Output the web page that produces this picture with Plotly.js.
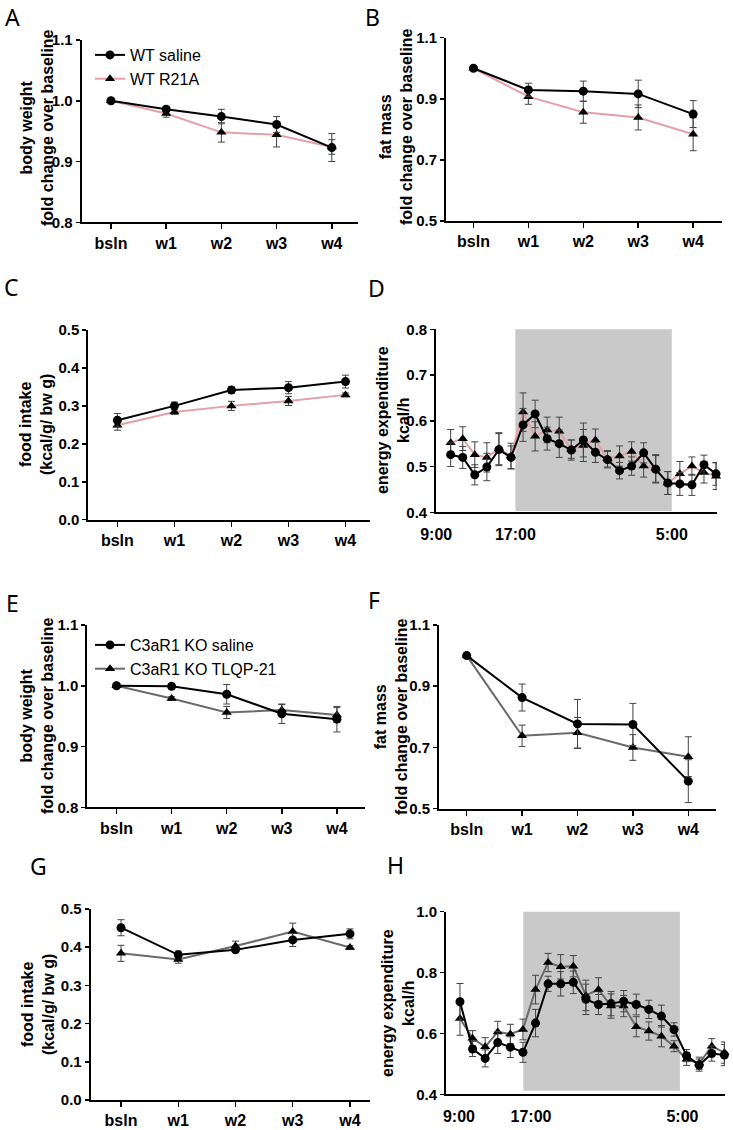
<!DOCTYPE html>
<html><head><meta charset="utf-8">
<script src="https://cdn.plot.ly/plotly-3.0.1.min.js"></script>
<style>html,body{margin:0;padding:0;background:#fff;} #chart{width:733px;height:1130px;}</style>
</head><body><div id="chart"></div>
<script>
// ---------- data ----------
const weeks = ['bsln', 'w1', 'w2', 'w3', 'w4'];

// A: body weight (WT)
const aSaline = [1.000, 0.986, 0.974, 0.961, 0.923];
const aSalineErr = [0.003, 0.004, 0.012, 0.013, 0.023];
const aR21A = [1.000, 0.979, 0.948, 0.944, 0.924];
const aR21AErr = [0.002, 0.006, 0.016, 0.020, 0.012];

// B: fat mass (WT)
const bSaline = [1.000, 0.929, 0.925, 0.916, 0.850];
const bSalineErr = [0.003, 0.022, 0.033, 0.045, 0.044];
const bR21A = [1.000, 0.907, 0.856, 0.839, 0.784];
const bR21AErr = [0.003, 0.025, 0.036, 0.041, 0.054];

// C: food intake (WT)
const cSaline = [0.262, 0.300, 0.342, 0.348, 0.364];
const cSalineErr = [0.018, 0.010, 0.008, 0.016, 0.017];
const cR21A = [0.249, 0.284, 0.300, 0.313, 0.329];
const cR21AErr = [0.013, 0.006, 0.012, 0.012, 0.005];

// D: energy expenditure (WT), hourly points
const dPoint = [1, 2, 3, 4, 5, 6, 7, 8, 9, 10, 11, 12, 13, 14, 15, 16, 17, 18, 19, 20, 21, 22, 23];
const dSaline = [0.526, 0.520, 0.482, 0.499, 0.537, 0.520, 0.591, 0.615, 0.561, 0.550, 0.536, 0.558, 0.531, 0.515, 0.491, 0.501, 0.530, 0.494, 0.464, 0.462, 0.460, 0.504, 0.484];
const dSalineErr = [0.026, 0.024, 0.022, 0.030, 0.035, 0.025, 0.036, 0.030, 0.025, 0.030, 0.022, 0.037, 0.022, 0.018, 0.018, 0.020, 0.022, 0.030, 0.025, 0.025, 0.023, 0.021, 0.025];
const dR21A = [0.552, 0.561, 0.526, 0.520, 0.539, 0.523, 0.619, 0.566, 0.580, 0.577, 0.538, 0.546, 0.558, 0.517, 0.523, 0.533, 0.501, 0.496, 0.464, 0.484, 0.501, 0.487, 0.479];
const dR21AErr = [0.029, 0.026, 0.028, 0.032, 0.035, 0.028, 0.042, 0.032, 0.028, 0.031, 0.020, 0.035, 0.024, 0.018, 0.022, 0.021, 0.024, 0.030, 0.025, 0.027, 0.020, 0.023, 0.029];
const dTickLabels = ['9:00', '17:00', '5:00'];

// E: body weight (C3aR1 KO)
const eSaline = [1.000, 0.999, 0.986, 0.954, 0.945];
const eSalineErr = [0.002, 0.004, 0.016, 0.016, 0.021];
const eTLQP = [1.000, 0.979, 0.956, 0.960, 0.952];
const eTLQPErr = [0.002, 0.003, 0.010, 0.009, 0.012];

// F: fat mass (C3aR1 KO)
const fSaline = [1.000, 0.863, 0.777, 0.775, 0.590];
const fSalineErr = [0.003, 0.044, 0.080, 0.069, 0.070];
const fTLQP = [1.000, 0.738, 0.748, 0.700, 0.670];
const fTLQPErr = [0.003, 0.035, 0.050, 0.042, 0.065];

// G: food intake (C3aR1 KO)
const gSaline = [0.451, 0.380, 0.393, 0.419, 0.435];
const gSalineErr = [0.021, 0.010, 0.006, 0.017, 0.013];
const gTLQP = [0.384, 0.368, 0.403, 0.441, 0.399];
const gTLQPErr = [0.021, 0.010, 0.013, 0.022, 0.005];

// H: energy expenditure (C3aR1 KO), hourly points
const hPoint = [1, 2, 3, 4, 5, 6, 7, 8, 9, 10, 11, 12, 13, 14, 15, 16, 17, 18, 19, 20, 21, 22];
const hSaline = [0.704, 0.549, 0.518, 0.570, 0.555, 0.538, 0.634, 0.763, 0.763, 0.768, 0.712, 0.695, 0.698, 0.706, 0.695, 0.679, 0.657, 0.613, 0.527, 0.496, 0.534, 0.529];
const hSalineErr = [0.060, 0.025, 0.028, 0.036, 0.034, 0.033, 0.045, 0.025, 0.040, 0.037, 0.050, 0.033, 0.040, 0.035, 0.034, 0.030, 0.036, 0.022, 0.020, 0.020, 0.025, 0.035];
const hTLQP = [0.649, 0.584, 0.556, 0.605, 0.598, 0.613, 0.744, 0.833, 0.819, 0.821, 0.725, 0.744, 0.690, 0.690, 0.622, 0.608, 0.591, 0.558, 0.515, 0.502, 0.558, 0.537];
const hTLQPErr = [0.055, 0.025, 0.030, 0.035, 0.032, 0.034, 0.047, 0.030, 0.040, 0.035, 0.050, 0.039, 0.040, 0.035, 0.033, 0.030, 0.035, 0.018, 0.020, 0.020, 0.025, 0.035];
const hTickLabels = ['9:00', '17:00', '5:00'];

const seriesNames = ['WT saline', 'WT R21A', 'C3aR1 KO saline', 'C3aR1 KO TLQP-21'];

// ---------- layout helpers ----------
const W = 733, H = 1130;
const px = v => v / W;
const py = v => 1 - v / H;
const FONT = 'Liberation Sans, Arial, sans-serif';
const PINK = '#e3a0a6';
const GRAY = '#6a6a6a';

function trace(x, y, err, n, kind, lineColor, extra) {
  const t = {
    x: x, y: y, type: 'scatter', mode: 'lines+markers',
    xaxis: 'x' + (n === 1 ? '' : n), yaxis: 'y' + (n === 1 ? '' : n),
    line: {color: lineColor, width: 2},
    marker: {symbol: kind === 'c' ? 'circle' : 'triangle-up', size: 9, color: '#000'},
    error_y: {type: 'data', array: err, visible: true, color: '#444', thickness: 1, width: 3.5},
    cliponaxis: false, showlegend: false, hoverinfo: 'skip'
  };
  return Object.assign(t, extra || {});
}

const data = [
  trace(weeks, aR21A, aR21AErr, 1, 't', PINK, {name: seriesNames[1], showlegend: true, legend: 'legend', legendrank: 2}),
  trace(weeks, aSaline, aSalineErr, 1, 'c', '#000', {name: seriesNames[0], showlegend: true, legend: 'legend', legendrank: 1}),
  trace(weeks, bR21A, bR21AErr, 2, 't', PINK),
  trace(weeks, bSaline, bSalineErr, 2, 'c', '#000'),
  trace(weeks, cR21A, cR21AErr, 3, 't', PINK),
  trace(weeks, cSaline, cSalineErr, 3, 'c', '#000'),
  trace(dPoint, dR21A, dR21AErr, 4, 't', PINK),
  trace(dPoint, dSaline, dSalineErr, 4, 'c', '#000'),
  trace(weeks, eTLQP, eTLQPErr, 5, 't', GRAY, {name: seriesNames[3], showlegend: true, legend: 'legend2', legendrank: 2}),
  trace(weeks, eSaline, eSalineErr, 5, 'c', '#000', {name: seriesNames[2], showlegend: true, legend: 'legend2', legendrank: 1}),
  trace(weeks, fTLQP, fTLQPErr, 6, 't', GRAY),
  trace(weeks, fSaline, fSalineErr, 6, 'c', '#000'),
  trace(weeks, gTLQP, gTLQPErr, 7, 't', GRAY),
  trace(weeks, gSaline, gSalineErr, 7, 'c', '#000'),
  trace(hPoint, hTLQP, hTLQPErr, 8, 't', GRAY),
  trace(hPoint, hSaline, hSalineErr, 8, 'c', '#000')
];

const tickFontY = {family: FONT, size: 15, color: '#000', weight: 'bold'};
const tickFontX = {family: FONT, size: 16, color: '#000', weight: 'bold'};

function xCat(anchor, l, r, range) {
  return {domain: [px(l), px(r)], anchor: anchor, type: 'category', range: range,
    showline: true, linecolor: '#000', linewidth: 2, showgrid: false, zeroline: false,
    ticks: 'outside', ticklen: 5, tickwidth: 1.5, tickcolor: '#000', tickfont: tickFontX, fixedrange: true};
}
function xTime(anchor, l, r, range, tv, tt) {
  return {domain: [px(l), px(r)], anchor: anchor, type: 'linear', range: range,
    showline: true, linecolor: '#000', linewidth: 2, showgrid: false, zeroline: false,
    tickmode: 'array', tickvals: tv, ticktext: tt,
    ticks: 'outside', ticklen: 6, tickcolor: 'rgba(0,0,0,0)', tickfont: tickFontX, fixedrange: true};
}
function yAx(anchor, bottom, top, range, dtick) {
  return {domain: [py(bottom), py(top)], anchor: anchor, range: range, tick0: range[0], dtick: dtick,
    tickformat: '.1f', showline: true, linecolor: '#000', linewidth: 2, showgrid: false, zeroline: false,
    ticks: 'outside', ticklen: 4, tickwidth: 1.5, tickcolor: '#000', tickfont: tickFontY, fixedrange: true};
}

const titleFont = {family: FONT, size: 16, color: '#000', weight: 'bold'};
function yTitle(x, y, text) {
  return {xref: 'paper', yref: 'paper', x: px(x), y: py(y), text: text, textangle: -90,
    showarrow: false, xanchor: 'center', yanchor: 'middle', font: titleFont};
}
function letter(x, y, t) {
  return {xref: 'paper', yref: 'paper', x: px(x), y: py(y), text: t, showarrow: false,
    xanchor: 'center', yanchor: 'middle', font: {family: 'Noto Sans, Open Sans, sans-serif', size: 23, color: '#000'}};
}

const layout = {
  width: W, height: H, margin: {l: 0, r: 0, t: 0, b: 0},
  paper_bgcolor: '#fff', plot_bgcolor: 'rgba(0,0,0,0)',
  font: {family: FONT, color: '#000'},
  xaxis: xCat('y', 81.7, 358.3, [-0.53, 4.48]),
  yaxis: yAx('x', 222.3, 40, [0.8, 1.1], 0.1),
  xaxis2: xCat('y2', 446, 721.7, [-0.5, 4.52]),
  yaxis2: yAx('x2', 221, 37.7, [0.5, 1.1], 0.2),
  xaxis3: xCat('y3', 88.3, 370, [-0.51, 4.43]),
  yaxis3: yAx('x3', 519.7, 330, [0, 0.5], 0.1),
  xaxis4: xTime('y4', 436.2, 717, [-0.2, 23.08], [-0.2, 6.36, 19.33], dTickLabels),
  yaxis4: yAx('x4', 512.3, 329.3, [0.4, 0.8], 0.1),
  xaxis5: xCat('y5', 87.3, 365, [-0.53, 4.51]),
  yaxis5: yAx('x5', 807.3, 625, [0.8, 1.1], 0.1),
  xaxis6: xCat('y6', 439, 716, [-0.5, 4.5]),
  yaxis6: yAx('x6', 808.7, 625, [0.5, 1.1], 0.2),
  xaxis7: xCat('y7', 90.7, 370, [-0.53, 4.35]),
  yaxis7: yAx('x7', 1100, 909, [0, 0.5], 0.1),
  xaxis8: xTime('y8', 446, 725, [-0.11, 22.05], [0.92, 6.64, 18.67], hTickLabels),
  yaxis8: yAx('x8', 1094.3, 911.7, [0.4, 1.0], 0.2),
  legend: {x: px(90), y: py(38), xanchor: 'left', yanchor: 'top', bgcolor: 'rgba(0,0,0,0)',
    font: {family: FONT, size: 16, color: '#000'}, tracegroupgap: 0, itemclick: false},
  legend2: {x: px(90), y: py(628), xanchor: 'left', yanchor: 'top', bgcolor: 'rgba(0,0,0,0)',
    font: {family: FONT, size: 16, color: '#000'}, tracegroupgap: 0, itemclick: false},
  shapes: [
    {type: 'rect', xref: 'x4', yref: 'y4', x0: 6.36, x1: 19.33, y0: 0.403, y1: 0.817,
      fillcolor: '#c9c9c9', line: {width: 0}, layer: 'below'},
    {type: 'rect', xref: 'x8', yref: 'y8', x0: 6.03, x1: 18.47, y0: 0.412, y1: 1.024,
      fillcolor: '#c9c9c9', line: {width: 0}, layer: 'below'}
  ],
  annotations: [
    yTitle(37, 128, 'body weight<br>fold change over baseline'),
    yTitle(396, 127, 'fat mass<br>fold change over baseline'),
    yTitle(36, 425, 'food intake<br>(kcal/g/ bw g)'),
    yTitle(393, 420, 'energy expenditure<br>kcal/h'),
    yTitle(37, 716, 'body weight<br>fold change over baseline'),
    yTitle(391, 717, 'fat mass<br>fold change over baseline'),
    yTitle(38, 1005, 'food intake<br>(kcal/g/ bw g)'),
    yTitle(398, 1003, 'energy expenditure<br>kcal/h'),
    letter(12, 17, 'A'), letter(372, 17, 'B'), letter(11, 287, 'C'), letter(376, 288, 'D'),
    letter(12, 603, 'E'), letter(374, 600, 'F'), letter(38, 866, 'G'), letter(395, 865, 'H')
  ]
};

Plotly.newPlot('chart', data, layout, {staticPlot: true, displayModeBar: false});
</script></body></html>
